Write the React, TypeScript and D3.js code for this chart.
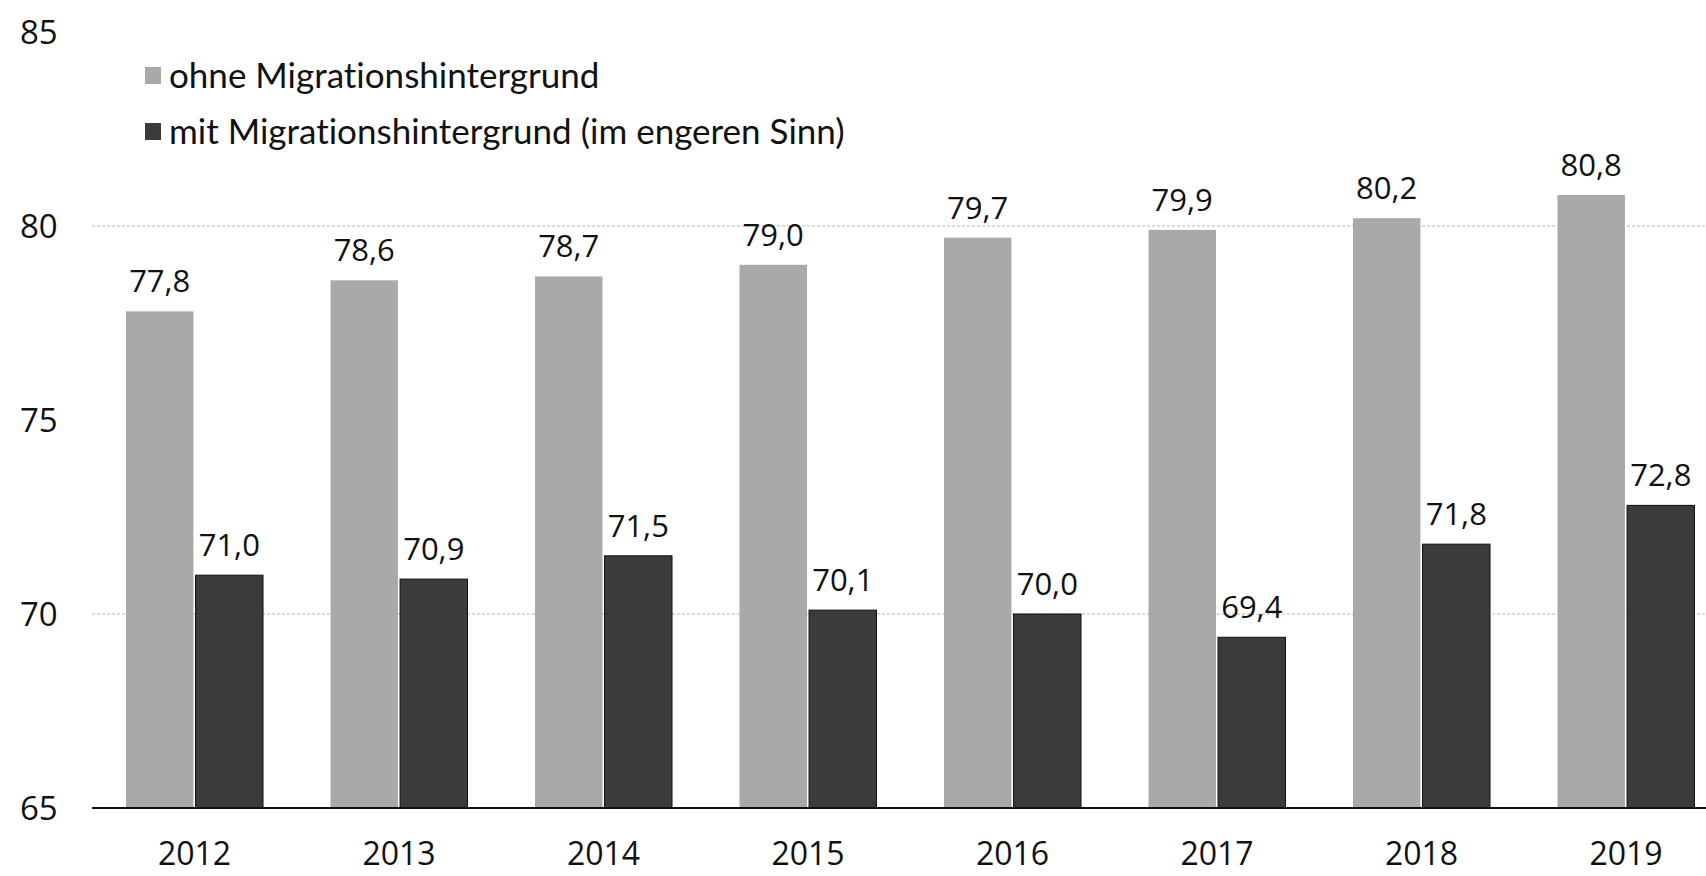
import React from "react";
import * as d3 from "d3";

const years = ["2012", "2013", "2014", "2015", "2016", "2017", "2018", "2019"];
const ohne = [77.8, 78.6, 78.7, 79.0, 79.7, 79.9, 80.2, 80.8];
const mit = [71.0, 70.9, 71.5, 70.1, 70.0, 69.4, 71.8, 72.8];
const seriesNames = ["ohne Migrationshintergrund", "mit Migrationshintergrund (im engeren Sinn)"];
const yTicks = [65, 70, 75, 80, 85];
const gridValues = [70, 80];

const W = 1706;
const H = 876;
const colors = ["#a9a9a9", "#3b3b3b"];
const numFont = "'Open Sans', 'Noto Sans', sans-serif";
const legFont = "Lato, 'Open Sans', sans-serif";

const fmt = (v: number) => v.toFixed(1).replace(".", ",");

export default function App() {
  const y = d3.scaleLinear().domain([65, 85]).range([808, 32]);
  const x0 = d3.scaleBand<string>().domain(years).range([126, 1694.5]).paddingInner(0.33).paddingOuter(0);
  const x1 = d3.scaleBand<string>().domain(["ohne", "mit"]).range([0, x0.bandwidth()]).paddingInner(0.03);
  const series = [
    { key: "ohne", values: ohne },
    { key: "mit", values: mit },
  ];

  return (
    <svg width={W} height={H} style={{ position: "absolute", left: 0, top: 0, background: "#fff" }}>
      {gridValues.map((g) => (
        <line key={g} x1={92} x2={W} y1={y(g)} y2={y(g)} stroke="#b5b5b5" strokeWidth={1} strokeDasharray="3,2" />
      ))}
      {yTicks.map((t) => (
        <text key={t} x={20} y={y(t)} dy="0.35em" fontFamily={numFont} fontSize={33} fill="#111">
          {t}
        </text>
      ))}
      {series.map((s, si) =>
        years.map((yr, i) => {
          const v = s.values[i];
          const bx = (x0(yr) as number) + (x1(s.key) as number);
          const bw = x1.bandwidth();
          return (
            <g key={s.key + yr}>
              <rect x={bx} y={y(v)} width={bw} height={y(65) - y(v)} fill={colors[si]} stroke={si === 1 ? "#111" : "none"} strokeWidth={1} />
              <text x={bx + bw / 2} y={y(v) - 19} textAnchor="middle" fontFamily={numFont} fontSize={31} fill="#111">
                {fmt(v)}
              </text>
            </g>
          );
        })
      )}
      <line x1={92} x2={W} y1={y(65)} y2={y(65)} stroke="#111" strokeWidth={2} />
      {years.map((yr) => (
        <text key={yr} x={(x0(yr) as number) + x0.bandwidth() / 2} y={865} textAnchor="middle" fontFamily={numFont} fontSize={32} fill="#111">
          {yr}
        </text>
      ))}
      {seriesNames.map((n, i) => (
        <g key={n} transform={`translate(145, ${67 + i * 56})`}>
          <rect x={0} y={0} width={16} height={17} fill={colors[i]} />
          <text x={24} y={9} dy="0.35em" fontFamily={legFont} fontSize={35} fill="#111" style={{ fontVariantLigatures: "none" }}>
            {n}
          </text>
        </g>
      ))}
    </svg>
  );
}
